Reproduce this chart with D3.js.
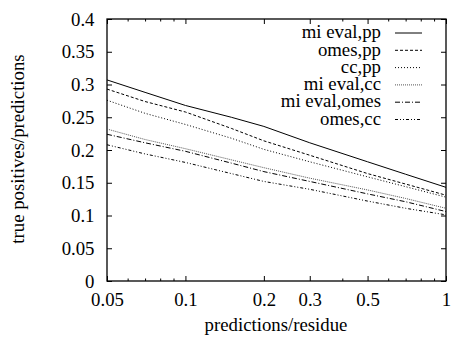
<!DOCTYPE html>
<html>
<head>
<meta charset="utf-8">
<script src="https://cdn.jsdelivr.net/npm/d3@7/dist/d3.min.js"></script>
<style>
  html, body { margin: 0; padding: 0; background: #fff; }
</style>
</head>
<body>
<svg id="chart" width="454" height="338"></svg>
<script>
// Fraction of predictions that are true positives vs. predictions per residue
const xValues = [0.05, 0.07, 0.1, 0.15, 0.2, 0.3, 0.5, 0.7, 1];

const miEvalPP   = [0.307, 0.288, 0.268, 0.250, 0.236, 0.211, 0.182, 0.163, 0.143];
const omesPP     = [0.293, 0.274, 0.258, 0.233, 0.214, 0.192, 0.164, 0.148, 0.131];
const ccPP       = [0.276, 0.256, 0.239, 0.218, 0.201, 0.182, 0.159, 0.144, 0.128];
const miEvalCC   = [0.232, 0.216, 0.202, 0.185, 0.173, 0.157, 0.139, 0.126, 0.111];
const miEvalOmes = [0.224, 0.211, 0.198, 0.180, 0.167, 0.152, 0.133, 0.121, 0.106];
const omesCC     = [0.208, 0.194, 0.181, 0.164, 0.152, 0.140, 0.122, 0.111, 0.101];

const seriesNames = ["mi eval,pp", "omes,pp", "cc,pp", "mi eval,cc", "mi eval,omes", "omes,cc"];
const seriesValues = [miEvalPP, omesPP, ccPP, miEvalCC, miEvalOmes, omesCC];
const seriesDash = ["none", "3,2", "1,2", "1,1", "5,2,1,2", "3,2,1,2,1,2"];
const seriesColor = ["#000", "#000", "#000", "#555", "#000", "#000"];

const xMajorTicks = [0.05, 0.1, 0.2, 0.3, 0.5, 1];
const xMinorTicks = [0.06, 0.07, 0.08, 0.09, 0.4, 0.6, 0.7, 0.8, 0.9];
const yTicks = [0, 0.05, 0.1, 0.15, 0.2, 0.25, 0.3, 0.35, 0.4];

const xLabel = "predictions/residue";
const yLabel = "true positives/predictions";

const svg = d3.select("#chart");
const plotLeft = 107, plotRight = 446, plotTop = 19, plotBottom = 281;
const fontSize = 18.8;
const serif = "'Liberation Serif'";

const x = d3.scaleLog().domain([0.05, 1]).range([plotLeft, plotRight]);
const y = d3.scaleLinear().domain([0, 0.4]).range([plotBottom, plotTop]);

const tickFmt = d => String(d);

// bottom axis: major ticks with labels
svg.append("g").attr("transform", `translate(0,${plotBottom})`)
  .call(d3.axisBottom(x).tickValues(xMajorTicks).tickFormat(tickFmt).tickSize(-5).tickPadding(11.5));
// bottom minor ticks
svg.append("g").attr("transform", `translate(0,${plotBottom})`)
  .call(d3.axisBottom(x).tickValues(xMinorTicks).tickFormat("").tickSize(-2.5));
// top mirrored ticks
svg.append("g").attr("transform", `translate(0,${plotTop})`)
  .call(d3.axisTop(x).tickValues(xMajorTicks).tickFormat("").tickSize(-5));
svg.append("g").attr("transform", `translate(0,${plotTop})`)
  .call(d3.axisTop(x).tickValues(xMinorTicks).tickFormat("").tickSize(-2.5));

// left axis with labels, right mirrored ticks
svg.append("g").attr("transform", `translate(${plotLeft},0)`)
  .call(d3.axisLeft(y).tickValues(yTicks).tickFormat(tickFmt).tickSize(-5).tickPadding(12.5));
svg.append("g").attr("transform", `translate(${plotRight},0)`)
  .call(d3.axisRight(y).tickValues(yTicks).tickFormat("").tickSize(-5));

svg.selectAll(".domain").remove();
svg.selectAll(".tick line").attr("stroke", "#000").attr("stroke-width", 1);
svg.selectAll(".tick text")
  .attr("fill", "#000")
  .style("font-family", serif)
  .style("font-size", fontSize + "px");

// plot frame
svg.append("rect")
  .attr("x", plotLeft).attr("y", plotTop)
  .attr("width", plotRight - plotLeft).attr("height", plotBottom - plotTop)
  .attr("fill", "none").attr("stroke", "#000").attr("stroke-width", 1.3);

// series lines
const line = d3.line().x((d, i) => x(xValues[i])).y(d => y(d));
seriesValues.forEach((vals, i) => {
  svg.append("path")
    .datum(vals)
    .attr("d", line)
    .attr("fill", "none")
    .attr("stroke", seriesColor[i])
    .attr("stroke-width", 1)
    .attr("stroke-dasharray", seriesDash[i]);
});

// legend
const legendTextX = 381, sampleX0 = 395, sampleX1 = 422, legendY0 = 33, legendDy = 17.3;
seriesNames.forEach((name, i) => {
  const ly = legendY0 + i * legendDy;
  svg.append("text")
    .attr("x", legendTextX).attr("y", ly)
    .attr("dy", "0.28em")
    .attr("text-anchor", "end")
    .style("font-family", serif)
    .style("font-size", fontSize + "px")
    .text(name);
  svg.append("line")
    .attr("x1", sampleX0).attr("x2", sampleX1)
    .attr("y1", ly).attr("y2", ly)
    .attr("stroke", seriesColor[i])
    .attr("stroke-width", 1)
    .attr("stroke-dasharray", seriesDash[i]);
});

// axis titles
svg.append("text")
  .attr("x", 276).attr("y", 331)
  .attr("text-anchor", "middle")
  .style("font-family", serif)
  .style("font-size", fontSize + "px")
  .text(xLabel);

svg.append("text")
  .attr("transform", `translate(24,149) rotate(-90)`)
  .attr("text-anchor", "middle")
  .style("font-family", serif)
  .style("font-size", fontSize + "px")
  .text(yLabel);
</script>
</body>
</html>
